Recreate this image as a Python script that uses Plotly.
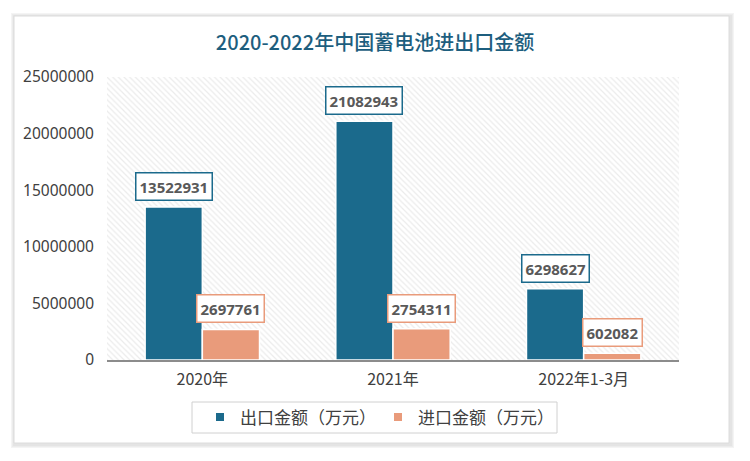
import plotly.graph_objects as go

categories = ["2020年", "2021年", "2022年1-3月"]
export_vals = [13522931, 21082943, 6298627]
import_vals = [2697761, 2754311, 602082]
series_names = ["出口金额（万元）", "进口金额（万元）"]
colors = ["#1b6a8c", "#e99b7b"]
y_ticks = [0, 5000000, 10000000, 15000000, 20000000, 25000000]

# plot area in pixels: x 107..679, y 77..360
L, R, T, B = 107, 679, 77, 360
W, H = R - L, B - T
def px(x):
    return (x - L) / W
def py(y):
    return (B - y) / H

fig = go.Figure()

# hatched background on the base axes
fig.add_trace(go.Bar(
    x=[0.5], y=[1], width=[1], xaxis="x", yaxis="y",
    marker=dict(color="white", line=dict(width=0),
                pattern=dict(shape="\\", fgcolor="#d8d8d8", bgcolor="white", size=4, solidity=0.3)),
    showlegend=False, hoverinfo="skip"))

fig.add_trace(go.Bar(
    x=categories, y=export_vals, name=series_names[0], xaxis="x2", yaxis="y2",
    marker=dict(color=colors[0], line=dict(color="white", width=1.5)), showlegend=False))
fig.add_trace(go.Bar(
    x=categories, y=import_vals, name=series_names[1], xaxis="x2", yaxis="y2",
    marker=dict(color=colors[1], line=dict(color="white", width=1.5)), showlegend=False))

# legend entries (small square markers)
for name, col in zip(series_names, colors):
    fig.add_trace(go.Scatter(
        x=[None], y=[None], mode="markers", name=name, xaxis="x2", yaxis="y2",
        marker=dict(symbol="square", size=8, color=col), hoverinfo="skip"))

annotations = []
for i, cat in enumerate(categories):
    for vals, col, off in ((export_vals, colors[0], -0.15), (import_vals, colors[1], 0.15)):
        annotations.append(dict(
            x=i + off, y=vals[i], xref="x2", yref="y2", text=str(vals[i]),
            showarrow=False, yanchor="bottom", yshift=6,
            font=dict(family="Noto Sans", size=15, color="#595959", weight="bold"),
            bgcolor="white", bordercolor=col, borderwidth=1.5, borderpad=3))

shapes = []
# card shadow
for k, c in enumerate(["#f4f4f4", "#ececec", "#e4e4e4"]):
    d = 3 - k
    shapes.append(dict(type="rect", xref="paper", yref="paper", layer="below",
                       x0=px(14 - d), x1=px(729 + d + 2), y0=py(443 + d + 2), y1=py(16 - d),
                       fillcolor=c, line=dict(width=0)))
shapes.append(dict(type="rect", xref="paper", yref="paper", layer="below",
                   x0=px(14), x1=px(729), y0=py(443), y1=py(16),
                   fillcolor="white", line=dict(color="#dcdcdc", width=1)))
# legend box
shapes.append(dict(type="rect", xref="paper", yref="paper", layer="below",
                   x0=px(192), x1=px(557), y0=py(433), y1=py(402),
                   fillcolor="white", line=dict(color="#d0d0d0", width=1)))

fig.update_layout(
    width=750, height=461,
    margin=dict(l=L, r=750 - R, t=T, b=461 - B, autoexpand=False),
    paper_bgcolor="white", plot_bgcolor="rgba(0,0,0,0)",
    barmode="group", bargap=0.4, bargroupgap=0,
    title=dict(text="2020-2022年中国蓄电池进出口金额", x=0.5, xanchor="center",
               y=1 - 43 / 461, yanchor="middle",
               font=dict(family="Noto Sans CJK SC", size=20, color="#1d5e7e", weight=500)),
    xaxis=dict(range=[0, 1], visible=False, fixedrange=True),
    yaxis=dict(range=[0, 1], visible=False, fixedrange=True),
    xaxis2=dict(overlaying="x", showgrid=False, showline=True, linecolor="#8c8c8c", linewidth=1.5,
                ticks="", ticklabelstandoff=4,
                tickfont=dict(family="Noto Sans CJK SC", size=16, color="#404040")),
    yaxis2=dict(overlaying="y", range=[0, 25000000], tickvals=y_ticks,
                ticktext=[str(v) for v in y_ticks], showgrid=False, zeroline=False,
                showline=False, ticks="", ticklabelstandoff=12,
                tickfont=dict(family="Noto Sans", size=15.5, color="#404040")),
    legend=dict(orientation="h", x=px(378), xanchor="center", y=py(417.5), yanchor="middle",
                font=dict(family="Noto Sans CJK SC", size=17, color="#404040"),
                bgcolor="rgba(0,0,0,0)", entrywidth=133, itemwidth=30, tracegroupgap=0),
    annotations=annotations, shapes=shapes, showlegend=True,
)

fig.write_html("out.html")
